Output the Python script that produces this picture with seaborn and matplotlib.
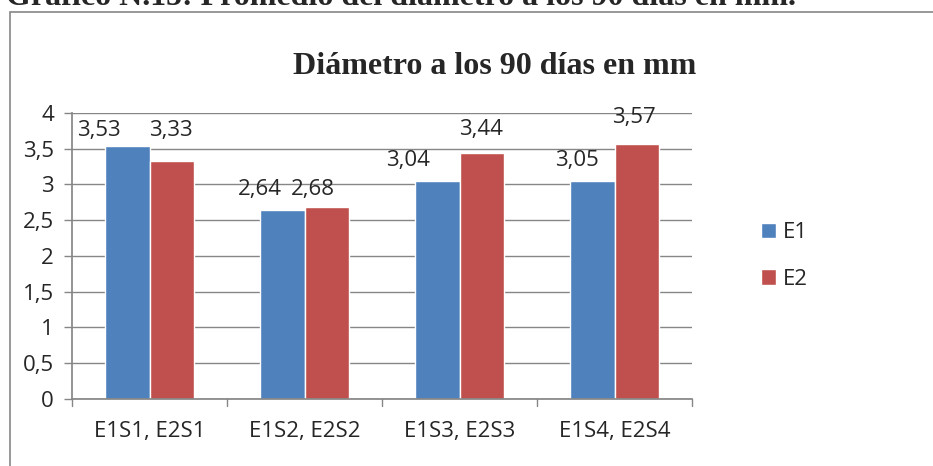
import matplotlib
matplotlib.use("Agg")
import matplotlib.pyplot as plt
from matplotlib.patches import Rectangle
import seaborn as sns
import pandas as pd

categories = ["E1S1, E2S1", "E1S2, E2S2", "E1S3, E2S3", "E1S4, E2S4"]
series_names = ["E1", "E2"]
e1_values = [3.53, 2.64, 3.04, 3.05]
e2_values = [3.33, 2.68, 3.44, 3.57]
y_ticks = [0, 0.5, 1, 1.5, 2, 2.5, 3, 3.5, 4]

# hand-placed value labels: offset (px right, px up) from the top centre of each bar
label_offsets = {
    "E1": [(-29, 16), (-23, 21), (-29, 21), (-15, 20)],
    "E2": [(-1, 30), (-14, 18), (-1, 23), (-3, 26)],
}

df = pd.DataFrame({
    "categoria": categories * 2,
    "serie": [series_names[0]] * len(categories) + [series_names[1]] * len(categories),
    "valor": e1_values + e2_values,
})

sns.set_theme(style="white")
plt.rcParams["font.family"] = ["Open Sans", "DejaVu Sans"]

fig = plt.figure(figsize=(9.33, 4.66), dpi=100)
ax = fig.add_axes([0.0772, 0.1438, 0.6645, 0.6142])

palette = {"E1": "#4F81BD", "E2": "#C0504D"}
sns.barplot(data=df, x="categoria", y="valor", hue="serie", palette=palette,
            width=0.57, saturation=1, ax=ax, legend=True)

ax.set_ylim(0, 4)
ax.set_xlim(-0.5, len(categories) - 0.5)
ax.set_yticks(y_ticks)
ax.set_yticklabels([f"{t:g}".replace(".", ",") for t in y_ticks], fontsize=16)
ax.tick_params(axis="y", length=6, width=1, color="#868686", pad=7, left=True)
ax.tick_params(axis="x", length=0, labelsize=16, pad=16)
ax.set_xticks(range(len(categories)))
ax.set_xticklabels(categories)
for xb in [i - 0.5 for i in range(len(categories) + 1)]:
    ax.plot([xb, xb], [0, -0.1], color="#868686", lw=1, clip_on=False)
ax.set_xlabel("")
ax.set_ylabel("")
ax.grid(axis="y", color="#868686", lw=1)
ax.set_axisbelow(True)
for side in ["top", "right"]:
    ax.spines[side].set_visible(False)
ax.spines["left"].set_color("#868686")
ax.spines["bottom"].set_color("#868686")

px = 72 / fig.dpi
for name, container in zip(series_names, ax.containers):
    for bar, (dx, dy) in zip(container, label_offsets[name]):
        h = bar.get_height()
        ax.annotate(f"{h:.2f}".replace(".", ","),
                    xy=(bar.get_x() + bar.get_width() / 2, h),
                    xytext=(dx * px, dy * px), textcoords="offset points",
                    ha="center", va="center", fontsize=16)

handles, labels = ax.get_legend_handles_labels()
ax.legend(handles, labels, loc="center left", bbox_to_anchor=(1.079, 0.50),
          frameon=False, fontsize=16, handlelength=0.68, handleheight=0.68,
          labelspacing=1.15, handletextpad=0.3)

fig.text(495 / 933, 1 - 66 / 466, "Diámetro a los 90 días en mm", ha="center", va="center",
         fontsize=23, fontweight="bold", family=["Liberation Serif"])
fig.text(0.006, 1 - 5 / 466, "Gráfico N.15: Promedio del diámetro a los 90 días en mm.",
         ha="left", va="baseline", fontsize=23, fontweight="bold",
         family=["Liberation Serif"])

fig.patches.append(Rectangle((10 / 933, -0.1), 1.2, 1 - 12 / 466 + 0.1,
                             transform=fig.transFigure, fill=False,
                             edgecolor="#868686", lw=1.2))

fig.savefig("out.png", dpi=100)
